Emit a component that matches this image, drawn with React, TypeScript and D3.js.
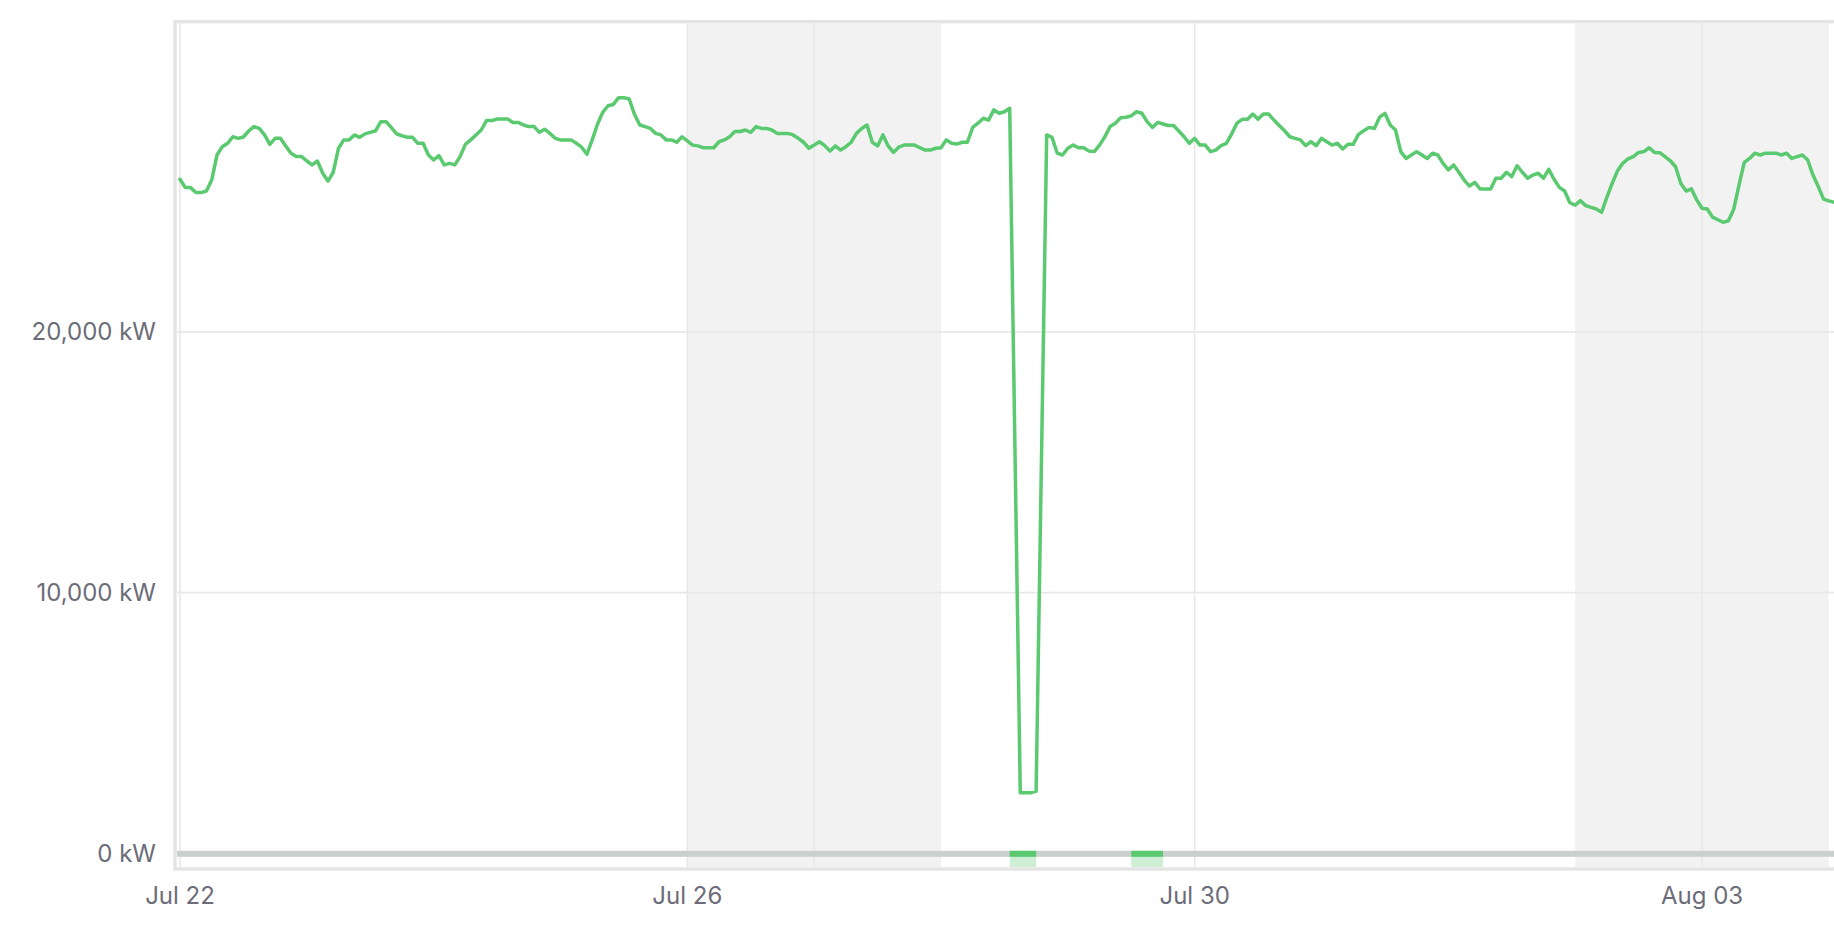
import React from "react";
import * as d3 from "d3";

// ---------- DATA ----------
const startISO = "2025-07-22T00:00:00Z"; // first hourly sample
// Hourly load (kW). null = missing sample (line is joined across it)
const hourlyLoadKW: (number | null)[] = [
  // Jul 22
  25850, 25530, 25530, 25340, 25340, 25400, 25820, 26780, 27100, 27230, 27480, 27420, 27470, 27700, 27870, 27800, 27550, 27190, 27420, 27420, 27130, 26850, 26720, 26720,
  // Jul 23
  26550, 26400, 26550, 26080, 25780, 26120, 27040, 27360, 27360, 27550, 27460, 27590, 27650, 27710, 28060, 28060, 27830, 27590, 27520, 27460, 27460, 27230, 27230, 26780,
  // Jul 24
  26590, 26760, 26400, 26460, 26400, 26720, 27190, 27360, 27550, 27740, 28100, 28100, 28160, 28160, 28160, 28030, 28030, 27930, 27870, 27870, 27650, 27770, 27610, 27420,
  // Jul 25
  27360, 27360, 27360, 27230, 27080, 26810, 27360, 27960, 28420, 28670, 28720, 28980, 28980, 28930, 28340, 27930, 27870, 27800, 27610, 27550, 27360, 27360, 27270, 27480,
  // Jul 26
  27320, 27160, 27130, 27060, 27060, 27060, 27290, 27360, 27480, 27680, 27680, 27740, 27650, 27870, 27800, 27800, 27740, 27610, 27610, 27610, 27550, 27420, 27270, 27040,
  // Jul 27
  27160, 27290, 27140, 26930, 27130, 26970, 27100, 27270, 27610, 27800, 27930, 27270, 27130, 27550, 27130, 26880, 27080, 27160, 27160, 27160, 27060, 26970, 26970, 27040,
  // Jul 28
  27060, 27360, 27230, 27200, 27270, 27270, 27840, 28000, 28190, 28120, 28510, 28380, 28440, 28570, null, 2330, 2330, 2330, 2380, null, 27550, 27460, 26850, 26780,
  // Jul 29
  27040, 27160, 27060, 27060, 26930, 26910, 27160, 27480, 27870, 28000, 28210, 28230, 28280, 28440, 28380, 28060, 27840, 28030, 27970, 27910, 27910, 27700, 27480, 27230,
  // Jul 30
  27420, 27160, 27160, 26910, 26970, 27140, 27230, 27590, 28000, 28150, 28150, 28350, 28150, 28350, 28350, 28120, 27910, 27710, 27480, 27420, 27360, 27140, 27290, 27140,
  // Jul 31
  27420, 27290, 27160, 27230, 27010, 27190, 27190, 27570, 27710, 27840, 27800, 28230, 28380, 27930, 27740, 26910, 26650, 26780, 26910, 26780, 26650, 26850, 26780, 26460,
  // Aug 1
  26210, 26400, 26120, 25820, 25590, 25730, 25480, 25480, 25480, 25890, 25890, 26120, 25950, 26370, 26120, 25890, 26010, 26080, 25890, 26230, 25850, 25540, 25400, 24950,
  // Aug 2
  24860, 25030, 24840, 24770, 24710, 24580, 25160, 25690, 26170, 26460, 26630, 26720, 26880, 26910, 27060, 26880, 26870, 26720, 26560, 26330, 25690, 25400, 25480, 25060,
  // Aug 3
  24740, 24710, 24400, 24300, 24200, 24260, 24700, 25630, 26500, 26650, 26850, 26780, 26850, 26850, 26850, 26780, 26850, 26650, 26720, 26780, 26590, 26010, 25570, 25090,
  // Aug 4
  25020, 24970,
];

const xTickDates = ["2025-07-22", "2025-07-26", "2025-07-30", "2025-08-03"];
const weekLineDates = ["2025-07-27", "2025-08-03"];
const weekendStarts = ["2025-07-26", "2025-08-02"];
const weekendEnds = ["2025-07-28", "2025-08-04"];
const eventStarts = ["2025-07-28T13:00:00Z", "2025-07-29T12:00:00Z"];
const eventEnds = ["2025-07-28T18:00:00Z", "2025-07-29T18:00:00Z"];
const yTickValues = [0, 10000, 20000];

// ---------- LAYOUT ----------
const W = 1834;
const H = 936;
const plotLeft = 177;
const plotRight = W;
const plotTop = 23.4;
const plotBottom = 867.3;

const LINE = "#5ac96f";
const LIGHT_GREEN = "#cfeed6";
const GRID = "#e8e8e8";
const FRAME = "#e4e4e4";
const BAND = "#c9d0cd";
const SHADE = "#f2f2f2";
const TEXT = "#6c6c78";
const FONT = "Inter, 'Noto Sans', sans-serif";

const d = (s: string) => new Date(s.length === 10 ? s + "T00:00:00Z" : s);

export default function App() {
  const x = d3
    .scaleUtc()
    .domain([d("2025-07-22"), d("2025-08-03")])
    .range([180, 1702]);
  const y = d3.scaleLinear().domain([-560, 31900]).range([868, 21.5]);

  const start = d(startISO).getTime();
  const points = hourlyLoadKW
    .map((v, i) => ({ t: new Date(start + i * 3600 * 1000), v }))
    .filter((p) => p.v !== null) as { t: Date; v: number }[];

  const linePath =
    d3
      .line<{ t: Date; v: number }>()
      .x((p) => x(p.t))
      .y((p) => y(p.v))(points) || "";

  const fmtDate = d3.utcFormat("%b %d");
  const fmtKW = (v: number) => d3.format(",")(v) + " kW";
  const y0 = y(0);

  return (
    <svg
      width={W}
      height={H}
      style={{ position: "absolute", left: 0, top: 0, display: "block" }}
      fontFamily={FONT}
    >
      <rect x={0} y={0} width={W} height={H} fill="#ffffff" />
      <defs>
        <clipPath id="plotClip">
          <rect x={plotLeft} y={plotTop} width={plotRight - plotLeft} height={plotBottom - plotTop} />
        </clipPath>
      </defs>
      <g clipPath="url(#plotClip)">
        {/* weekend shading */}
        {weekendStarts.map((s, i) => (
          <rect
            key={"we" + i}
            x={x(d(s))}
            y={plotTop}
            width={x(d(weekendEnds[i])) - x(d(s))}
            height={plotBottom - plotTop}
            fill={SHADE}
          />
        ))}
        {/* horizontal grid */}
        {yTickValues
          .filter((v) => v !== 0)
          .map((v) => (
            <line key={"hg" + v} x1={plotLeft} x2={plotRight} y1={y(v)} y2={y(v)} stroke={GRID} strokeWidth={1.6} />
          ))}
        {/* vertical grid */}
        {Array.from(new Set([...xTickDates, ...weekLineDates])).map((s) => (
          <line key={"vg" + s} x1={x(d(s))} x2={x(d(s))} y1={plotTop} y2={plotBottom} stroke={GRID} strokeWidth={1.6} />
        ))}
        {/* zero band */}
        <rect x={plotLeft} y={y0 - 2.6} width={plotRight - plotLeft} height={6} fill={BAND} />
        {/* event markers */}
        {eventStarts.map((s, i) => {
          const x1 = x(d(s));
          const x2 = x(d(eventEnds[i]));
          return (
            <g key={"ev" + i}>
              <rect x={x1} y={y0 + 3.4} width={x2 - x1} height={plotBottom - (y0 + 3.4)} fill={LIGHT_GREEN} />
              <rect x={x1} y={y0 - 2.6} width={x2 - x1} height={6} fill={LINE} />
            </g>
          );
        })}
        {/* series line */}
        <path d={linePath} fill="none" stroke={LINE} strokeWidth={3.5} strokeLinejoin="round" strokeLinecap="round" />
      </g>
      {/* frame */}
      <rect x={175} y={21.7} width={W} height={869 - 21.7} fill="none" stroke={FRAME} strokeWidth={3.4} />
      {/* y labels */}
      {yTickValues.map((v) => (
        <text key={"yl" + v} x={156} y={y(v)} dy="0.36em" textAnchor="end" fontSize={24} fill={TEXT}>
          {fmtKW(v)}
        </text>
      ))}
      {/* x labels */}
      {xTickDates.map((s) => (
        <text key={"xl" + s} x={x(d(s))} y={904} textAnchor="middle" fontSize={24} fill={TEXT}>
          {fmtDate(d(s))}
        </text>
      ))}
    </svg>
  );
}
